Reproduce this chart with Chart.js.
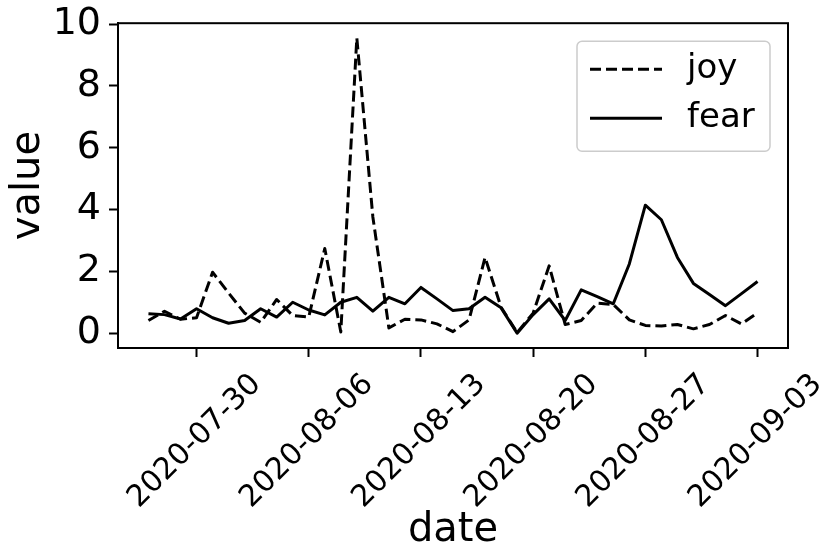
<!DOCTYPE html>
<html>
<head>
<meta charset="utf-8">
<script src="https://cdn.jsdelivr.net/npm/chart.js@4/dist/chart.umd.min.js"></script>
<style>
	body { margin: 0; background: #fff; }
	#wrap { width: 836px; height: 559px; }
</style>
</head>
<body>
<div id="wrap"><canvas id="myChart" width="836" height="559"></canvas></div>
<script>
// daily values
var dates = ['2020-07-27', '2020-07-28', '2020-07-29', '2020-07-30', '2020-07-31',
	'2020-08-01', '2020-08-02', '2020-08-03', '2020-08-04', '2020-08-05', '2020-08-06',
	'2020-08-07', '2020-08-08', '2020-08-09', '2020-08-10', '2020-08-11', '2020-08-12',
	'2020-08-13', '2020-08-14', '2020-08-15', '2020-08-16', '2020-08-17', '2020-08-18',
	'2020-08-19', '2020-08-20', '2020-08-21', '2020-08-22', '2020-08-23', '2020-08-24',
	'2020-08-25', '2020-08-26', '2020-08-27', '2020-08-28', '2020-08-29', '2020-08-30',
	'2020-08-31', '2020-09-01', '2020-09-02', '2020-09-03'];

var joyValues = [0.41, 0.71, 0.45, 0.50, 1.97, 1.30, 0.65, 0.35, 1.09, 0.57, 0.52,
	2.74, 0.04, 9.55, 3.76, 0.17, 0.45, 0.43, 0.30, 0.05, 0.43, 2.45, 0.84,
	0.02, 0.65, 2.18, 0.28, 0.41, 0.97, 0.93, 0.43, 0.25, 0.23, 0.28, 0.14,
	0.28, 0.57, 0.30, 0.66];

var fearValues = [0.63, 0.60, 0.46, 0.79, 0.50, 0.32, 0.41, 0.79, 0.52, 1.00, 0.75,
	0.59, 1.00, 1.16, 0.71, 1.16, 0.95, 1.48, 1.11, 0.73, 0.79, 1.16, 0.82,
	0.00, 0.60, 1.11, 0.41, 1.40, 1.18, 0.95, 2.24, 4.14, 3.67, 2.45, 1.61,
	1.25, 0.89, 1.28, 1.67];

var tickDates = ['2020-07-30', '2020-08-06', '2020-08-13', '2020-08-20', '2020-08-27', '2020-09-03'];
var yTicks = [0, 2, 4, 6, 8, 10];

var FONT = "'DejaVu Sans', sans-serif";

// day number counted from the first date
function dayOf(d) {
	return (Date.parse(d) - Date.parse(dates[0])) / 86400000;
}

function toPoints(values) {
	return dates.map(function(d, i) { return { x: dayOf(d), y: values[i] }; });
}

// box round the plot + legend inside the top right corner
var framePlugin = {
	id: 'frame',
	afterDraw: function(chart) {
		var ctx = chart.ctx;
		var a = chart.chartArea;
		ctx.save();
		ctx.strokeStyle = '#000';
		ctx.lineWidth = 2;
		ctx.strokeRect(a.left, a.top, a.right - a.left, a.bottom - a.top);

		var bx = a.right - 211, by = a.top + 18, bw = 193, bh = 110;
		ctx.beginPath();
		ctx.roundRect(bx, by, bw, bh, 5);
		ctx.fillStyle = 'rgba(255,255,255,0.8)';
		ctx.fill();
		ctx.strokeStyle = '#cccccc';
		ctx.lineWidth = 1.5;
		ctx.stroke();

		ctx.font = '34px ' + FONT;
		ctx.textBaseline = 'middle';
		ctx.fillStyle = '#000';
		chart.data.datasets.forEach(function(ds, i) {
			var ly = by + 28 + i * 49;
			ctx.beginPath();
			ctx.setLineDash(ds.borderDash || []);
			ctx.strokeStyle = ds.borderColor;
			ctx.lineWidth = ds.borderWidth;
			ctx.moveTo(bx + 13, ly);
			ctx.lineTo(bx + 85, ly);
			ctx.stroke();
			ctx.setLineDash([]);
			ctx.fillText(ds.label, bx + 110, ly);
		});
		ctx.restore();
	}
};

function drawChart() {
	var ctx = document.getElementById('myChart');
	var myChart = new Chart(ctx, {
		type: 'line',
		data: {
			datasets: [{
				label: 'joy',
				data: toPoints(joyValues),
				borderColor: '#000',
				borderWidth: 3,
				borderDash: [11, 5],
				borderJoinStyle: 'round',
				borderCapStyle: 'butt',
				pointRadius: 0,
				tension: 0
			}, {
				label: 'fear',
				data: toPoints(fearValues),
				borderColor: '#000',
				borderWidth: 3,
				borderJoinStyle: 'round',
				borderCapStyle: 'butt',
				pointRadius: 0,
				tension: 0
			}]
		},
		options: {
			responsive: false,
			animation: false,
			devicePixelRatio: 1,
			layout: { padding: { top: 22, right: 48, left: 0, bottom: 0 } },
			plugins: {
				legend: { display: false },
				tooltip: { enabled: false }
			},
			scales: {
				x: {
					type: 'linear',
					min: -1.9,
					max: 39.9,
					afterBuildTicks: function(scale) {
						scale.ticks = tickDates.map(function(d) { return { value: dayOf(d) }; });
					},
					afterFit: function(scale) { scale.height = 211; },
					ticks: {
						autoSkip: false,
						minRotation: 45,
						maxRotation: 45,
						padding: 10,
						labelOffset: 60,
						color: '#000',
						font: { family: FONT, size: 30 },
						callback: function(value) {
							for (var i = 0; i < tickDates.length; i++) {
								if (dayOf(tickDates[i]) === value) return tickDates[i];
							}
							return '';
						}
					},
					grid: {
						drawOnChartArea: false,
						drawTicks: true,
						tickLength: 9,
						tickWidth: 2,
						tickColor: '#000'
					},
					border: { display: true, color: '#000', width: 2 },
					title: {
						display: true,
						text: 'date',
						color: '#000',
						font: { family: FONT, size: 40 },
						padding: { top: 0, bottom: 4 }
					}
				},
				y: {
					min: -0.48,
					max: 10.03,
					afterBuildTicks: function(scale) {
						scale.ticks = yTicks.map(function(v) { return { value: v }; });
					},
					afterFit: function(scale) { scale.width = 118; },
					ticks: {
						padding: 8,
						color: '#000',
						font: { family: FONT, size: 38, lineHeight: 0.8 }
					},
					grid: {
						drawOnChartArea: false,
						drawTicks: true,
						tickLength: 9,
						tickWidth: 2,
						tickColor: '#000'
					},
					border: { display: true, color: '#000', width: 2 },
					title: {
						display: true,
						text: 'value',
						color: '#000',
						font: { family: FONT, size: 40 },
						padding: { top: 5, bottom: 0 }
					}
				}
			}
		},
		plugins: [framePlugin]
	});
}

drawChart();
</script>
</body>
</html>
